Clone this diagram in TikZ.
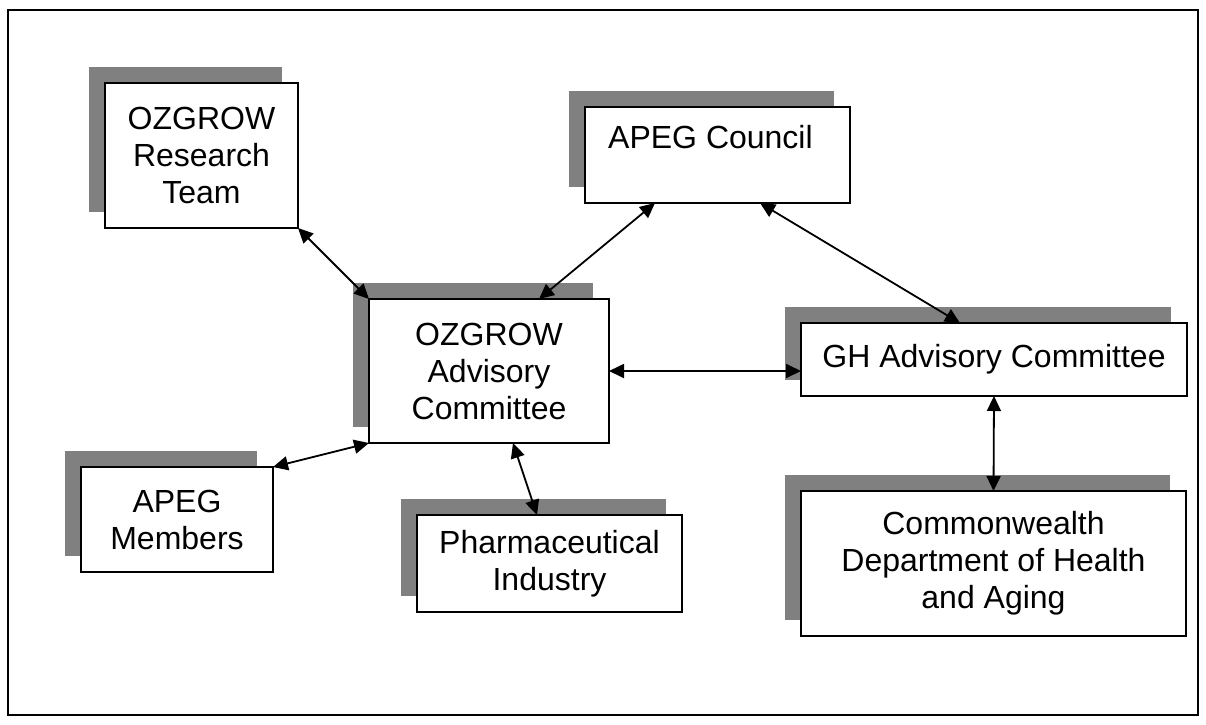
\documentclass[tikz,border=0pt]{standalone}
\usepackage{fontspec}
\setmainfont{Liberation Sans}
\usetikzlibrary{arrows.meta,calc}
\definecolor{shadowgray}{HTML}{808080}
\tikzset{
  orgbox/.style={draw=black, fill=white, line width=1.6pt, inner sep=0pt, outer sep=0pt,
    align=center, font=\fontsize{32}{37}\selectfont},
  shadowbox/.style={fill=shadowgray},
  link/.style={line width=1.8pt, {Triangle[length=15pt,width=14pt]}-{Triangle[length=15pt,width=14pt]}},
  txt/.style={inner sep=0pt, font=\fontsize{32}{37}\selectfont}
}
\begin{document}
\begin{tikzpicture}[x=1pt,y=-1pt]
\useasboundingbox (0,0) rectangle (1206,724);
\draw[line width=1.6pt] (8,10) rectangle (1198,715);
% shadows
\fill[shadowgray] (89,67) rectangle (282,212);
\fill[shadowgray] (569,91) rectangle (834,187);
\fill[shadowgray] (353,283) rectangle (593,427);
\fill[shadowgray] (785,307) rectangle (1171,380);
\fill[shadowgray] (65,451) rectangle (257,556);
\fill[shadowgray] (401,499) rectangle (666,596);
\fill[shadowgray] (785,475) rectangle (1170,620);
% boxes
\node[orgbox, minimum width=193pt, minimum height=145pt] (rt) at (201.5,155.5) {OZGROW\\Research\\Team};
\node[orgbox, minimum width=265pt, minimum height=96pt] (council) at (717.5,155) {};
\node[txt, anchor=west] (counciltxt) at (608,137) {APEG Council};
\node[orgbox, minimum width=240pt, minimum height=144pt] (oz) at (489,371) {OZGROW\\Advisory\\Committee};
\node[orgbox, minimum width=386pt, minimum height=73pt] (gh) at (994,359.5) {GH Advisory Committee};
\node[orgbox, minimum width=192pt, minimum height=105pt] (mem) at (177,519.5) {APEG\\Members};
\node[orgbox, minimum width=265pt, minimum height=97pt] (ph) at (549.5,563.5) {Pharmaceutical\\Industry};
\node[orgbox, minimum width=385pt, minimum height=145pt] (comm) at (993.5,563.5) {Commonwealth\\Department of Health\\and Aging};
% connectors
\draw[link] (rt.south east) -- (oz.north west);
\draw[link] ($(council.south west)+(70,0)$) -- ($(oz.north west)+(170,0)$);
\draw[link] ($(council.south west)+(175,0)$) -- ($(gh.north west)+(159,0)$);
\draw[link] (oz.east) -- (oz.east -| gh.west);
\draw[link] (mem.north east) -- (oz.south west);
\draw[link] ($(oz.south west)+(144,0)$) -- ($(ph.north west)+(120,0)$);
\draw[link] (gh.south) -- (comm.north);
\end{tikzpicture}
\end{document}
